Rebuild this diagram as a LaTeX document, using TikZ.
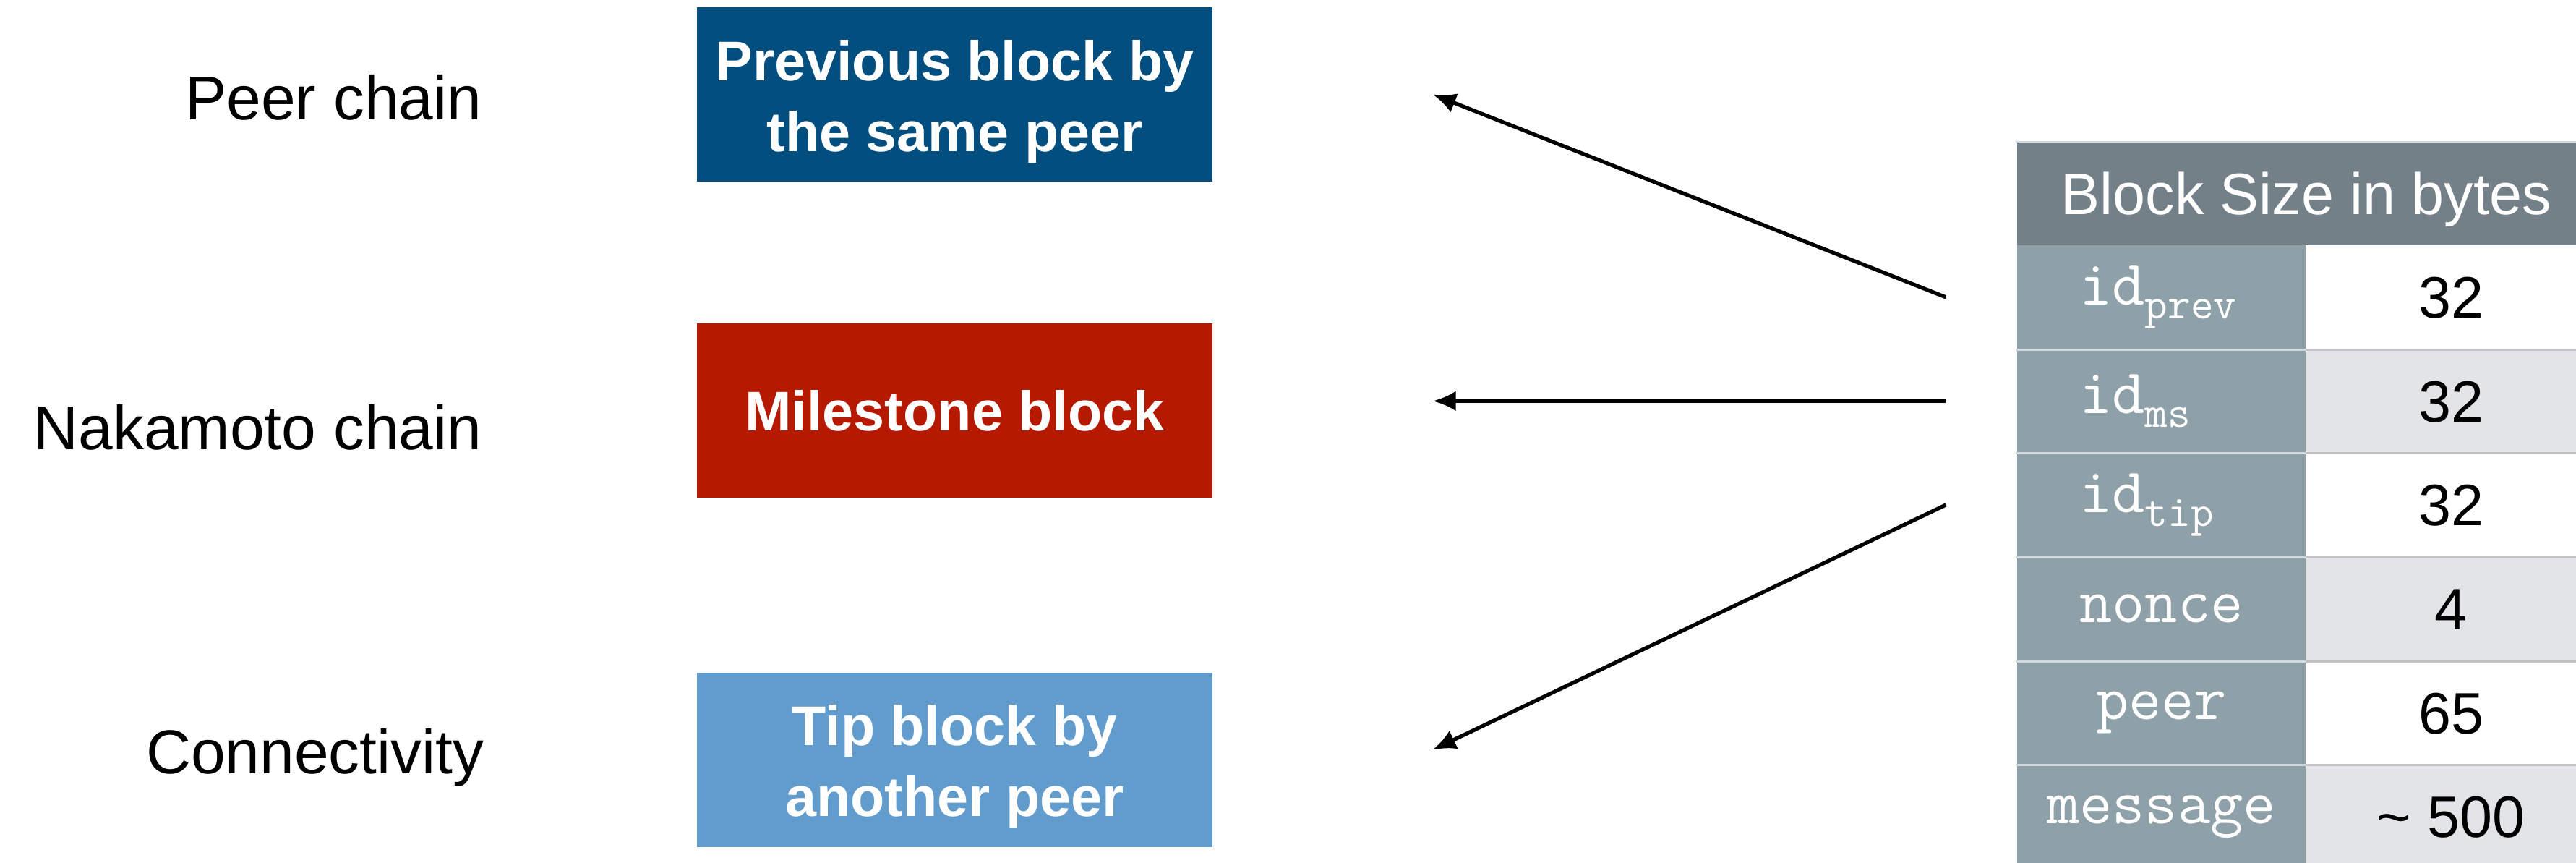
\documentclass[tikz,border=0pt]{standalone}
\usepackage{fontspec}
\setmainfont{Liberation Sans}
\usepackage{xcolor}
\usepackage{tikz}
\usetikzlibrary{arrows.meta}
\usetikzlibrary{positioning}

\definecolor{peerblue}{RGB}{2,79,127}
\definecolor{msred}{RGB}{181,25,0}
\definecolor{tipblue}{RGB}{98,156,205}
\definecolor{headgrey}{RGB}{115,128,135}
\definecolor{fieldgrey}{RGB}{143,161,168}
\definecolor{stripe}{RGB}{227,228,232}
\definecolor{rulegrey}{RGB}{195,195,195}
\definecolor{rulelight}{RGB}{208,217,221}

% field name with a smaller lowered suffix, left aligned on the width of five characters
\newcommand{\fieldsub}[2]{\makebox[5\fontcharwd\font`n][l]{#1\raisebox{-1.9mm}{\fontsize{17.5}{17.5}\selectfont #2}}}

\begin{document}
\begin{tikzpicture}[
        blk/.style={rectangle,fill=#1,minimum width=7.13cm,minimum height=2.41cm,inner sep=0pt},
        blktext/.style={text=white,inner sep=0pt,align=center,font=\fontsize{22}{27.8}\selectfont\bfseries},
        chainlabel/.style={anchor=base east,inner sep=0pt,font=\fontsize{24.4}{28}\selectfont},
        headcell/.style={rectangle,fill=headgrey,text=white,minimum width=8cm,minimum height=1.42cm,
          inner sep=0pt,text height=16.5pt,text depth=0pt,font=\fontsize{23}{27}\selectfont},
        fieldcell/.style={rectangle,fill=fieldgrey,text=white,minimum width=3.99cm,minimum height=1.436cm,
          inner sep=0pt,font=\fontsize{25}{27}\selectfont\ttfamily},
        sizecell/.style={rectangle,fill=#1,minimum width=4.01cm,minimum height=1.436cm,
          inner sep=0pt,text height=16.5pt,text depth=0pt,font=\fontsize{23}{27}\selectfont},
        ref/.style={-{Latex[length=3.2mm,width=2.8mm]},line width=1.5pt}
        ]
        \useasboundingbox (0,0) rectangle (35.63,-11.93);

        \node[blk=peerblue] (prev) at (13.205,-1.305) {};
        \node[blk=msred] (ms) at (13.205,-5.675) {};
        \node[blk=tipblue] (tipblk) at (13.205,-10.505) {};
        \node[blktext] (prevtext) at ([yshift=-1mm]prev.center) {Previous block by\\the same peer};
        \node[blktext] (mstext) at (ms.center) {Milestone block};
        \node[blktext] (tiptext) at ([yshift=-0.9mm]tipblk.center) {Tip block by\\another peer};

        \node[chainlabel] (peerlbl) at (6.67,-1.66) {Peer chain};
        \node[chainlabel] (nakalbl) at (6.67,-6.21) {Nakamoto chain};
        \node[chainlabel] (connlbl) at (6.70,-10.69) {Connectivity};

        % block layout table
        \node[headcell] (head) at (31.90,-2.68) {Block Size in bytes};
        \draw[rulelight,line width=0.6pt] (head.north west) -- (head.north east);
        \foreach \fld/\sz/\shade [count=\i] in {%
            {\fieldsub{id}{prev}}/32/white,
            {\fieldsub{id}{ms}}/32/stripe,
            {\fieldsub{id}{tip}}/32/white,
            nonce/4/stripe,
            peer/65/white,
            message/{\textasciitilde\ 500}/stripe} {
          \node[fieldcell] (f\i) at (29.895,-2.672-1.436*\i) {\fld};
          \node[sizecell=\shade] (s\i) at (33.90,-2.672-1.436*\i) {\sz};
        }
        \foreach \i in {1,...,5} {
          \draw[rulelight,line width=0.8pt] (f\i.south west) -- (f\i.south east);
          \draw[rulegrey,line width=0.8pt] (s\i.south west) -- (s\i.south east);
        }

        % references from the header fields to the blocks
        \coordinate[left=9.8mm of f1] (t1);
        \coordinate[left=9.8mm of f2] (t2);
        \coordinate[left=9.8mm of f3] (t3);
        \coordinate[right=3.04cm of prev] (h1);
        \coordinate (h2) at (h1 |- t2);
        \coordinate[right=3.04cm of tipblk,yshift=1.4mm] (h3);
        \draw[ref] (t1) -- (h1);
        \draw[ref] (t2) -- (h2);
        \draw[ref] (t3) -- (h3);
\end{tikzpicture}
\end{document}
